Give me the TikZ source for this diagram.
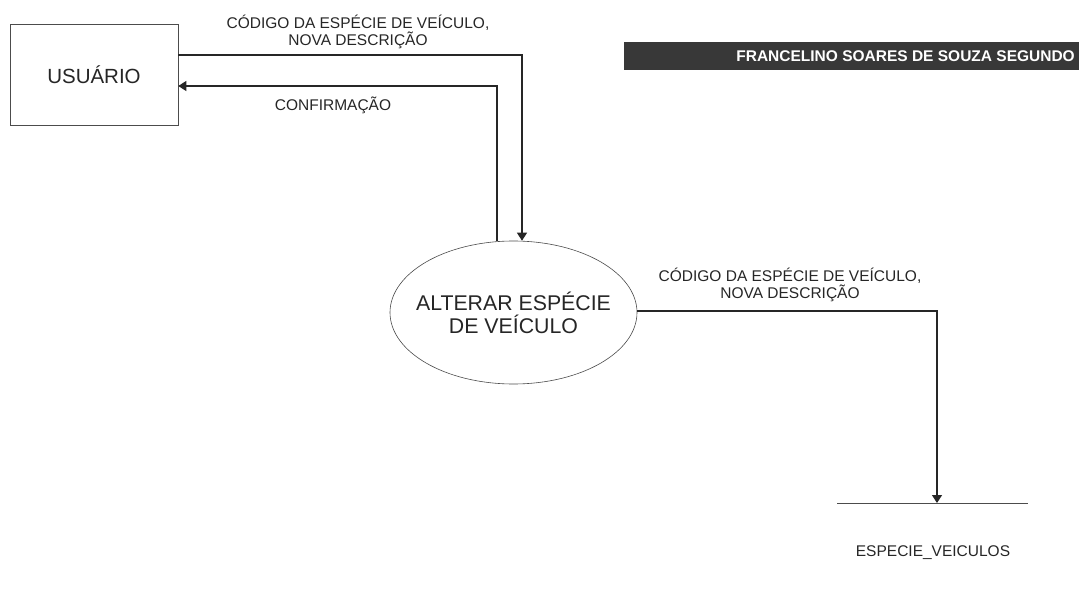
\documentclass[tikz,border=0pt]{standalone}
\usepackage{fontspec}
\setmainfont{Liberation Sans}
\usetikzlibrary{shapes.geometric,arrows.meta}
\begin{document}
\begin{tikzpicture}[x=1pt,y=-1pt,
  flow/.style={draw=black!85,line width=1.2pt},
  arr/.style={flow,-{Triangle[width=10pt,length=8pt]}},
  lbl/.style={font=\fontsize{15.5}{17.5}\selectfont,align=center,inner sep=0pt,text=black!85},
  big/.style={font=\fontsize{20.5}{24}\selectfont,align=center,text=black!85}]
\useasboundingbox (0,0) rectangle (1079,596);
\fill[white] (0,0) rectangle (1079,596);
% title
\fill[black!78] (624,42) rectangle (1079,70);
\node[font=\bfseries\fontsize{15.5}{17}\selectfont,text=white,anchor=east,inner sep=0pt] (title) at (1075,56) {FRANCELINO SOARES DE SOUZA SEGUNDO};
% entity
\node[draw=black!70,line width=0.6pt,minimum width=168pt,minimum height=101pt,big,inner sep=0pt] (usr) at (94,74.5) {USUÁRIO};
% process
\node[draw=black!70,line width=0.6pt,ellipse,minimum width=247pt,minimum height=143pt,inner sep=0pt] (proc) at (513.5,312.5) {};
\node[font=\fontsize{21.3}{23}\selectfont,align=center,text=black!85,inner sep=0pt] (proctext) at (proc.center) {ALTERAR ESPÉCIE\\DE VEÍCULO};
% store
\coordinate (s1) at (837,503);
\coordinate (s2) at (1028,503);
\draw[draw=black!70,line width=0.8pt] (s1) -- (s2);
\node[lbl] (storelbl) at (933,553) {ESPECIE\_VEICULOS};
% flows
\coordinate (c1) at (522,55);
\coordinate (c2) at (497,86);
\coordinate (c3) at (937,311);
\draw[arr] (usr.east |- c1) -- (c1) -- (c1 |- proc.north);
\draw[arr] (c2 |- proc.north) -- (c2) -- (usr.east |- c2);
\draw[arr] (proc.east |- c3) -- (c3) -- (c3 |- s1);
% labels
\node[lbl] (l1) at (358,32) {CÓDIGO DA ESPÉCIE DE VEÍCULO,\\NOVA DESCRIÇÃO};
\node[lbl] (l2) at (333,105) {CONFIRMAÇÃO};
\node[lbl] (l3) at (790,285) {CÓDIGO DA ESPÉCIE DE VEÍCULO,\\NOVA DESCRIÇÃO};
\end{tikzpicture}
\end{document}
